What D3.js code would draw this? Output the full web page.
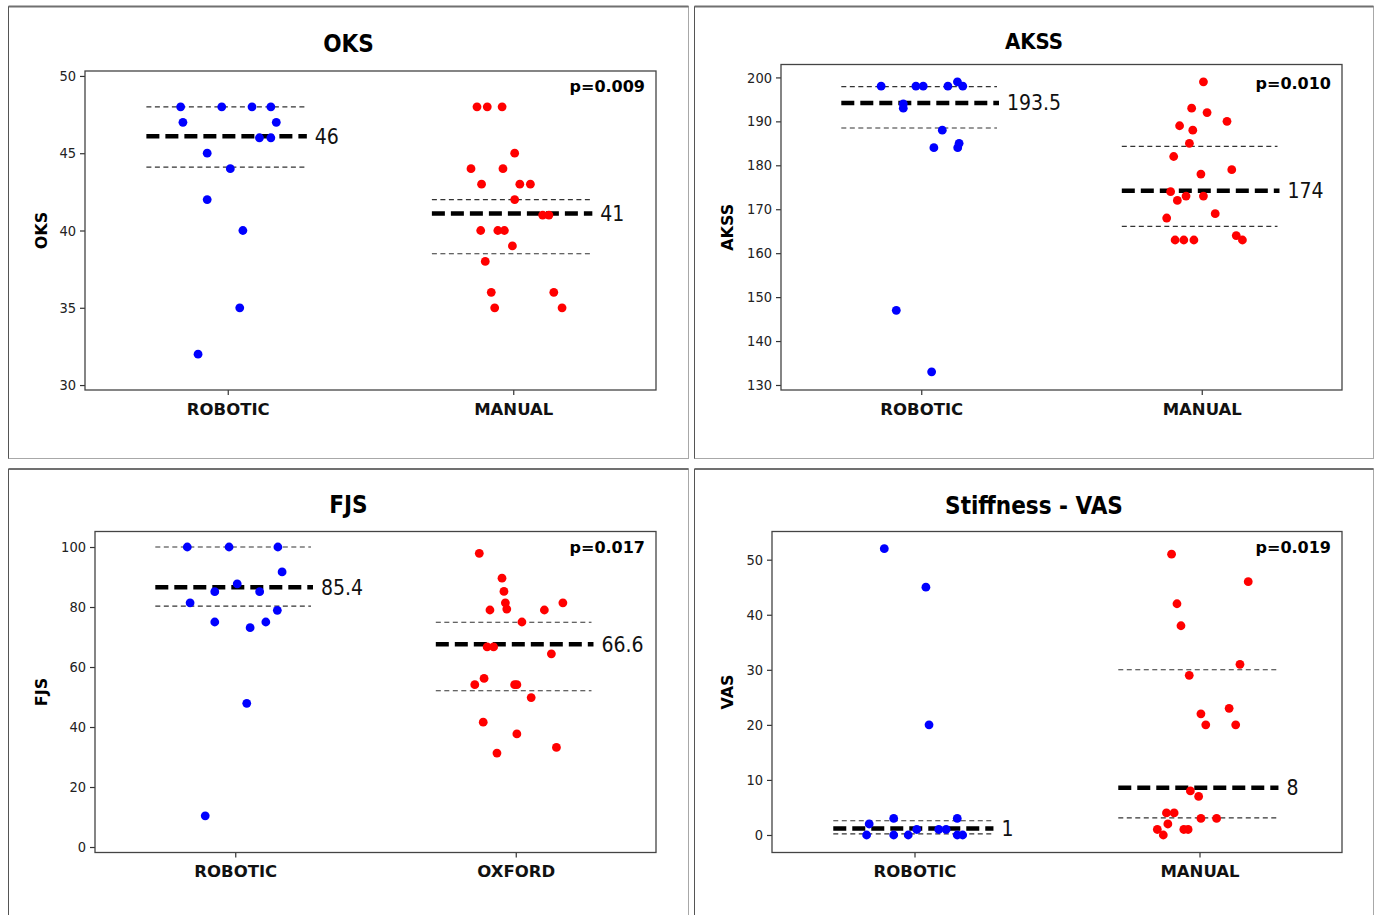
<!DOCTYPE html>
<html>
<head>
<meta charset="utf-8">
<script src="https://cdn.jsdelivr.net/npm/d3@7"></script>
<style>
  body { margin: 0; background: #fff; }
  svg { display: block; }
</style>
</head>
<body>
<div id="chart"></div>
<script>
// ---------- data ----------
// jitter = horizontal offset of each dot, in units of the category step

// OKS
var oksGroups = ["ROBOTIC", "MANUAL"];
var oksRobotic = [48, 48, 48, 48, 47, 47, 46, 46, 45, 44, 42, 40, 35, 32];
var oksRoboticJit = [-0.165, -0.021, 0.085, 0.151, -0.157, 0.170, 0.111, 0.151, -0.072, 0.009, -0.072, 0.053, 0.042, -0.104];
var oksManual = [48, 48, 48, 45, 44, 44, 43, 43, 43, 42, 41, 41, 40, 40, 40, 39, 38, 36, 36, 35, 35];
var oksManualJit = [-0.127, -0.091, -0.039, 0.005, -0.148, -0.036, -0.111, 0.023, 0.060, 0.005, 0.103, 0.125, -0.114, -0.054, -0.031, -0.003, -0.098, -0.077, 0.142, -0.065, 0.171];
var oksMedian = [46.1, 41.1];
var oksMedianLabel = ["46", "41"];
var oksUpper = [48, 42];
var oksLower = [44.1, 38.5];
var oksTicks = [30, 35, 40, 45, 50];
var oksP = "p=0.009";

// AKSS
var akssGroups = ["ROBOTIC", "MANUAL"];
var akssRobotic = [198, 198, 198, 198, 199, 198, 194, 193, 188, 184, 185, 184, 147, 133];
var akssRoboticJit = [-0.143, -0.019, 0.007, 0.095, 0.129, 0.148, -0.064, -0.064, 0.075, 0.045, 0.135, 0.130, -0.089, 0.037];
var akssManual = [199, 193, 192, 190, 189, 188, 185, 182, 179, 178, 174, 173, 173, 172, 169, 168, 163, 163, 163, 164, 163];
var akssManualJit = [0.006, -0.036, 0.019, 0.090, -0.079, -0.032, -0.044, -0.100, 0.107, -0.003, -0.111, -0.056, 0.006, -0.087, 0.048, -0.125, -0.095, -0.064, -0.028, 0.123, 0.145];
var akssMedian = [194.2, 174.2];
var akssMedianLabel = ["193.5", "174"];
var akssUpper = [197.9, 184.3];
var akssLower = [188.5, 166.1];
var akssTicks = [130, 140, 150, 160, 170, 180, 190, 200];
var akssP = "p=0.010";

// FJS
var fjsGroups = ["ROBOTIC", "OXFORD"];
var fjsRobotic = [100, 100, 100, 91.7, 87.7, 85.1, 85.1, 81.4, 78.9, 75, 75, 73.1, 47.9, 10.4];
var fjsRoboticJit = [-0.171, -0.022, 0.152, 0.167, 0.007, -0.073, 0.087, -0.161, 0.150, -0.073, 0.109, 0.053, 0.041, -0.107];
var fjsOxford = [97.9, 89.6, 85.2, 81.4, 79.3, 79, 79, 81.4, 75, 66.7, 66.7, 64.4, 56.2, 54.1, 54.1, 54.1, 49.8, 41.6, 37.7, 33.2, 31.3];
var fjsOxfordJit = [-0.130, -0.049, -0.042, -0.037, -0.032, -0.092, 0.102, 0.168, 0.022, -0.102, -0.079, 0.127, -0.113, -0.146, -0.004, 0.004, 0.055, -0.116, 0.004, 0.145, -0.067];
var fjsMedian = [86.6, 67.6];
var fjsMedianLabel = ["85.4", "66.6"];
var fjsUpper = [100, 74.9];
var fjsLower = [80.3, 52.1];
var fjsTicks = [0, 20, 40, 60, 80, 100];
var fjsP = "p=0.017";

// Stiffness - VAS
var vasGroups = ["ROBOTIC", "MANUAL"];
var vasRobotic = [52, 45, 20, 3, 3, 2, 1, 1, 1, 0, 0, 0, 0, 0];
var vasRoboticJit = [-0.106, 0.040, 0.051, -0.073, 0.150, -0.159, 0.008, 0.085, 0.111, -0.168, -0.073, -0.022, 0.150, 0.169];
var vasManual = [51, 46, 42, 38, 31, 29, 23, 22, 20, 20, 8, 7, 4, 4, 3, 3, 2, 1, 1, 1, 0];
var vasManualJit = [-0.098, 0.171, -0.079, -0.065, 0.142, -0.036, 0.104, 0.005, 0.022, 0.127, -0.032, -0.003, -0.116, -0.089, 0.005, 0.060, -0.111, -0.148, -0.055, -0.040, -0.127];
var vasMedian = [1.2, 8.6];
var vasMedianLabel = ["1", "8"];
var vasUpper = [2.6, 30];
var vasLower = [0.2, 3.1];
var vasTicks = [0, 10, 20, 30, 40, 50];
var vasP = "p=0.019";

var groupColors = ["#0000ff", "#ff0000"];

// ---------- layout ----------
var W = 1378, H = 915;
var condensed = "'DejaVu Sans Condensed', 'DejaVu Sans', sans-serif";
var plain = "'DejaVu Sans', Verdana, sans-serif";

var panels = [
  { title: "OKS", yLabel: "OKS", groups: oksGroups,
    values: [oksRobotic, oksManual], jit: [oksRoboticJit, oksManualJit],
    median: oksMedian, medianLabel: oksMedianLabel, upper: oksUpper, lower: oksLower,
    ticks: oksTicks, p: oksP, domain: [29.68, 50.32],
    frame: { x: 8.5, y: 6.5, w: 680, h: 452 },
    plot: { l: 85, t: 71, r: 656, b: 390 }, titleY: 52, titleSize: 24, pY: 92 },
  { title: "AKSS", yLabel: "AKSS", groups: akssGroups,
    values: [akssRobotic, akssManual], jit: [akssRoboticJit, akssManualJit],
    median: akssMedian, medianLabel: akssMedianLabel, upper: akssUpper, lower: akssLower,
    ticks: akssTicks, p: akssP, domain: [128.86, 202.94],
    frame: { x: 694.5, y: 6.5, w: 679, h: 452 },
    plot: { l: 781, t: 64.5, r: 1342, b: 390 }, titleY: 49, titleSize: 22, pY: 89 },
  { title: "FJS", yLabel: "FJS", groups: fjsGroups,
    values: [fjsRobotic, fjsOxford], jit: [fjsRoboticJit, fjsOxfordJit],
    median: fjsMedian, medianLabel: fjsMedianLabel, upper: fjsUpper, lower: fjsLower,
    ticks: fjsTicks, p: fjsP, domain: [-1.83, 105.17],
    frame: { x: 8.5, y: 469, w: 680, h: 460 },
    plot: { l: 95, t: 531.5, r: 656, b: 852.5 }, titleY: 513, titleSize: 24, pY: 553 },
  { title: "Stiffness - VAS", yLabel: "VAS", groups: vasGroups,
    values: [vasRobotic, vasManual], jit: [vasRoboticJit, vasManualJit],
    median: vasMedian, medianLabel: vasMedianLabel, upper: vasUpper, lower: vasLower,
    ticks: vasTicks, p: vasP, domain: [-3.18, 55.12],
    frame: { x: 694.5, y: 469, w: 679, h: 460 },
    plot: { l: 772, t: 531.5, r: 1342, b: 852.5 }, titleY: 514, titleSize: 24, pY: 553 }
];

var svg = d3.select("#chart").append("svg")
  .attr("width", W).attr("height", H);

svg.append("rect").attr("width", W).attr("height", H).attr("fill", "#fff");

panels.forEach(function (p) {
  var g = svg.append("g");
  var f = p.frame;

  // outer panel frame
  g.append("rect")
    .attr("x", f.x).attr("y", f.y).attr("width", f.w).attr("height", f.h)
    .attr("fill", "none").attr("stroke", "#a8a8a8").attr("stroke-width", 1);
  g.append("line")
    .attr("x1", f.x).attr("x2", f.x + f.w).attr("y1", f.y).attr("y2", f.y)
    .attr("stroke", "#707070").attr("stroke-width", 2);
  g.append("line")
    .attr("x1", f.x).attr("x2", f.x).attr("y1", f.y).attr("y2", f.y + f.h)
    .attr("stroke", "#555").attr("stroke-width", 1);

  // title
  g.append("text")
    .attr("x", f.x + f.w / 2).attr("y", p.titleY)
    .attr("text-anchor", "middle")
    .style("font-family", condensed).style("font-weight", "bold").style("font-size", p.titleSize + "px")
    .text(p.title);

  var pl = p.plot;
  var x = d3.scalePoint().domain(p.groups).range([pl.l, pl.r]).padding(0.5);
  var y = d3.scaleLinear().domain(p.domain).range([pl.b, pl.t]);
  var step = x.step();
  var hwL = 0.285 * step, hwR = 0.27 * step;

  // y axis
  var yAxis = g.append("g")
    .attr("transform", "translate(" + pl.l + ",0)")
    .call(d3.axisLeft(y).tickValues(p.ticks).tickSize(5).tickSizeOuter(0).tickPadding(4));
  yAxis.select(".domain").remove();
  yAxis.selectAll("line").attr("stroke", "#333").attr("stroke-width", 1.2);
  yAxis.selectAll("text")
    .attr("fill", "#222")
    .style("font-family", condensed).style("font-size", "14.5px");

  // x axis
  var xAxis = g.append("g")
    .attr("transform", "translate(0," + pl.b + ")")
    .call(d3.axisBottom(x).tickSize(5).tickSizeOuter(0).tickPadding(8));
  xAxis.select(".domain").remove();
  xAxis.selectAll("line").attr("stroke", "#333").attr("stroke-width", 1.2);
  xAxis.selectAll("text")
    .attr("fill", "#111")
    .style("font-family", plain).style("font-weight", "bold").style("font-size", "16.5px");

  // plot box
  g.append("rect")
    .attr("x", pl.l).attr("y", pl.t).attr("width", pl.r - pl.l).attr("height", pl.b - pl.t)
    .attr("fill", "none").attr("stroke", "#444").attr("stroke-width", 1.3);

  // y label
  g.append("text")
    .attr("transform", "translate(" + (f.x + 38) + "," + (pl.t + pl.b) / 2 + ") rotate(-90)")
    .attr("text-anchor", "middle")
    .style("font-family", plain).style("font-weight", "bold").style("font-size", "16px")
    .text(p.yLabel);

  // p value
  g.append("text")
    .attr("x", pl.r - 11).attr("y", p.pY)
    .attr("text-anchor", "end")
    .style("font-family", plain).style("font-weight", "bold").style("font-size", "16px")
    .text(p.p);

  p.groups.forEach(function (grp, i) {
    var cx = x(grp);

    // thin dashed interval lines
    [p.upper[i], p.lower[i]].forEach(function (v) {
      g.append("line")
        .attr("x1", cx - hwL).attr("x2", cx + hwR)
        .attr("y1", y(v)).attr("y2", y(v))
        .attr("stroke", "#333").attr("stroke-width", 1.1)
        .attr("stroke-dasharray", "5,3.5");
    });

    // median line
    g.append("line")
      .attr("x1", cx - hwL).attr("x2", cx + hwR + 2)
      .attr("y1", y(p.median[i])).attr("y2", y(p.median[i]))
      .attr("stroke", "#000").attr("stroke-width", 4.5)
      .attr("stroke-dasharray", "13,6");

    g.append("text")
      .attr("x", cx + hwR + 10).attr("y", y(p.median[i]))
      .attr("dy", "0.36em")
      .attr("fill", "#111")
      .style("font-family", condensed).style("font-size", "21px")
      .text(p.medianLabel[i]);

    // points
    g.selectAll(null)
      .data(p.values[i].map(function (v, k) { return { v: v, j: p.jit[i][k] }; }))
      .enter()
      .append("circle")
      .attr("cx", function (d) { return cx + d.j * step; })
      .attr("cy", function (d) { return y(d.v); })
      .attr("r", 4.4)
      .attr("fill", groupColors[i]);
  });
});
</script>
</body>
</html>
